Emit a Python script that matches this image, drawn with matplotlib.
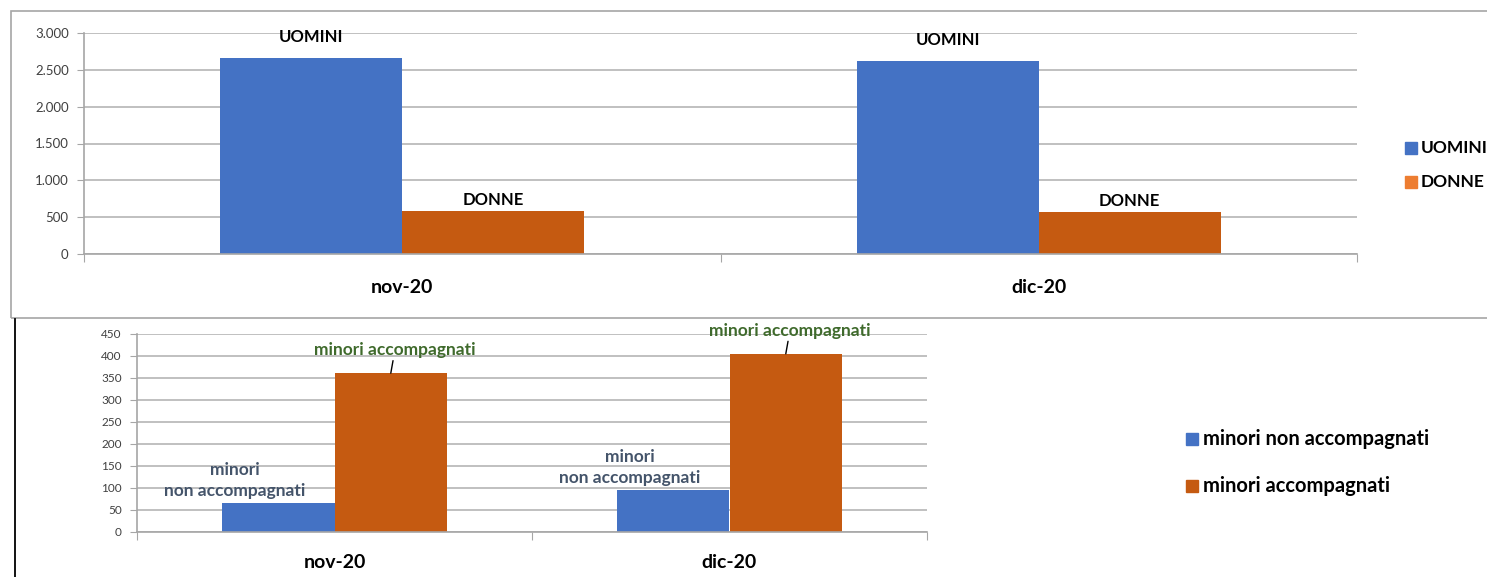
import numpy as np
import matplotlib.pyplot as plt
from matplotlib.patches import Rectangle
from matplotlib.lines import Line2D

plt.rcParams['font.family'] = ['Lato', 'DejaVu Sans']

months = ['nov-20', 'dic-20']
uomini = [2665, 2620]
donne = [584, 572]
non_accomp = [66, 96]
accomp = [361, 405]

BLUE = '#4472C4'
ORANGE = '#C55A11'
ORANGE_LIGHT = '#ED7D31'
GRID = '#c0c0c0'
TICK = '#404040'
GREEN = '#3f6a2c'
SLATE = '#44546A'


def fmt_it(v, pos=None):
    return f'{int(v):,}'.replace(',', '.')


def style_axes(ax, ymax, step, tick_fs):
    ax.set_ylim(0, ymax)
    ax.set_yticks(np.arange(0, ymax + 1, step))
    ax.yaxis.set_major_formatter(plt.FuncFormatter(fmt_it))
    ax.grid(axis='y', color=GRID, linewidth=1.4)
    ax.set_axisbelow(True)
    for s in ['top', 'right']:
        ax.spines[s].set_visible(False)
    for s in ['left', 'bottom']:
        ax.spines[s].set_color('#a6a6a6')
        ax.spines[s].set_linewidth(1.2)
    ax.tick_params(axis='y', length=5, color='#a6a6a6', labelsize=tick_fs,
                   labelcolor=TICK, pad=6)
    ax.set_xlim(-0.5, 1.5)
    # category boundary ticks
    ax.set_xticks([-0.5, 0.5, 1.5])
    ax.set_xticklabels([])
    ax.tick_params(axis='x', length=6, color='#a6a6a6')
    ax.set_xticks([0, 1], minor=True)
    ax.set_xticklabels(months, minor=True, fontsize=14, fontweight='bold')
    ax.tick_params(axis='x', which='minor', length=0, pad=18)


fig = plt.figure(figsize=(14.87, 5.77), dpi=100)

# frame around upper chart
fig.add_artist(Rectangle((11 / 1487, 1 - 318 / 577), 1.2, (318 - 11) / 577,
                         transform=fig.transFigure, fill=False,
                         edgecolor='#a6a6a6', linewidth=1.2))
fig.add_artist(Line2D([15 / 1487, 15 / 1487], [0, 1 - 319 / 577],
                      transform=fig.transFigure, color='black', linewidth=1.3))

# upper chart
ax1 = fig.add_axes([84 / 1487, 1 - 254 / 577, (1357 - 84) / 1487, (254 - 33) / 577])
x = np.arange(len(months))
w = 0.286
ax1.bar(x - w / 2, uomini, w, color=BLUE)
ax1.bar(x + w / 2, donne, w, color=ORANGE)
style_axes(ax1, 3000, 500, 9.5)
for xi, v in zip(x, uomini):
    ax1.annotate('UOMINI', (xi - w / 2, v), xytext=(0, 9), textcoords='offset points',
                 ha='center', va='bottom', fontsize=12, fontweight='bold')
for xi, v in zip(x, donne):
    ax1.annotate('DONNE', (xi + w / 2, v), xytext=(0, 2), textcoords='offset points',
                 ha='center', va='bottom', fontsize=12, fontweight='bold')

fig.add_artist(Rectangle((1405 / 1487, 1 - 154 / 577), 12 / 1487, 12 / 577,
                         transform=fig.transFigure, color=BLUE))
fig.text(1421 / 1487, 1 - 148 / 577, 'UOMINI', fontsize=12.5, fontweight='bold', va='center')
fig.add_artist(Rectangle((1405 / 1487, 1 - 188 / 577), 12 / 1487, 12 / 577,
                         transform=fig.transFigure, color=ORANGE_LIGHT))
fig.text(1421 / 1487, 1 - 182 / 577, 'DONNE', fontsize=12.5, fontweight='bold', va='center')

# lower chart
ax2 = fig.add_axes([137 / 1487, 1 - 532 / 577, (927 - 137) / 1487, (532 - 334) / 577])
w2 = 0.285
ax2.bar(x - w2 / 2, non_accomp, w2, color=BLUE)
ax2.bar(x + w2 / 2, accomp, w2, color=ORANGE)
style_axes(ax2, 450, 50, 8.5)
ax2.tick_params(axis='x', which='minor', pad=16)
for xi, v in zip(x, non_accomp):
    ax2.annotate('minori\nnon accompagnati', (xi - w2 / 2, v), xytext=(-31, 3),
                 textcoords='offset points', ha='center', va='bottom', fontsize=12.5,
                 fontweight='bold', color=SLATE, linespacing=1.35)
for xi, v in zip(x, accomp):
    ax2.annotate('minori accompagnati', (xi + w2 / 2, v), xytext=(3, 11),
                 textcoords='offset points', ha='center', va='bottom', fontsize=12.5,
                 fontweight='bold', color=GREEN,
                 arrowprops=dict(arrowstyle='-', color='black', lw=1,
                                 shrinkA=0, shrinkB=0))

fig.add_artist(Rectangle((1186 / 1487, 1 - 445 / 577), 12 / 1487, 12 / 577,
                         transform=fig.transFigure, color=BLUE))
fig.text(1203 / 1487, 1 - 439 / 577, 'minori non accompagnati', fontsize=14.5,
         fontweight='bold', va='center')
fig.add_artist(Rectangle((1186 / 1487, 1 - 492 / 577), 12 / 1487, 12 / 577,
                         transform=fig.transFigure, color=ORANGE))
fig.text(1203 / 1487, 1 - 486 / 577, 'minori accompagnati', fontsize=14.5,
         fontweight='bold', va='center')

fig.savefig('out.png', dpi=100)
